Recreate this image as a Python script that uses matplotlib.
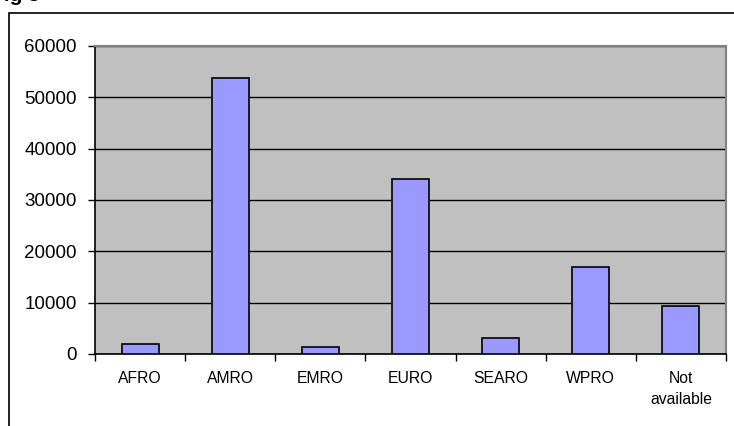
import matplotlib
matplotlib.use("Agg")
import matplotlib.pyplot as plt
from matplotlib.patches import Rectangle
import numpy as np

categories = ["AFRO", "AMRO", "EMRO", "EURO", "SEARO", "WPRO", "Not\navailable"]
values = [2000, 53700, 1400, 34000, 3200, 17000, 9300]
yticks = [0, 10000, 20000, 30000, 40000, 50000, 60000]

plt.rcParams['font.family'] = ['Liberation Sans', 'DejaVu Sans']

W, H = 734, 426
fig = plt.figure(figsize=(W/100, H/100), dpi=100)
ax = fig.add_axes([95/W, (H-354)/H, 631/W, (354-46)/H])

# outer frame
fig.patches.append(Rectangle((9/W, -0.1), 1.2, (H-13)/H + 0.1, transform=fig.transFigure,
                             fill=False, edgecolor='black', linewidth=1.2, clip_on=False))
# title cut off at the top edge, as in the reference
fig.text(-9/W, (H-1)/H, "Fig 3", fontsize=15, fontweight='bold', ha='left', va='baseline')

ax.set_facecolor('#C0C0C0')
x = np.arange(len(categories))
ax.set_axisbelow(True)
ax.yaxis.grid(True, color='black', linewidth=1)
ax.bar(x, values, width=0.41, color='#9999FF', edgecolor='black', linewidth=1.2, zorder=3)

ax.set_xlim(-0.5, len(categories) - 0.5)
ax.set_ylim(0, 60000)
ax.set_yticks(yticks)
ax.set_yticklabels([str(v) for v in yticks], fontsize=13.5)
ax.set_xticks(x)
ax.set_xticklabels(categories, fontsize=11.3, linespacing=1.5)
ax.set_xticks(np.arange(len(categories) + 1) - 0.5, minor=True)
ax.tick_params(axis='x', which='major', length=0, pad=12)
ax.tick_params(axis='x', which='minor', length=5, width=1, color='black', direction='out')
ax.tick_params(axis='y', length=5, width=1, direction='out', pad=8)

for s in ['top', 'right']:
    ax.spines[s].set_color('#808080')
    ax.spines[s].set_linewidth(1.5)
ax.spines['left'].set_color('black')
ax.spines['bottom'].set_color('black')
ax.spines['left'].set_linewidth(1.2)
ax.spines['bottom'].set_linewidth(1.2)

fig.savefig("out.png", dpi=100)
